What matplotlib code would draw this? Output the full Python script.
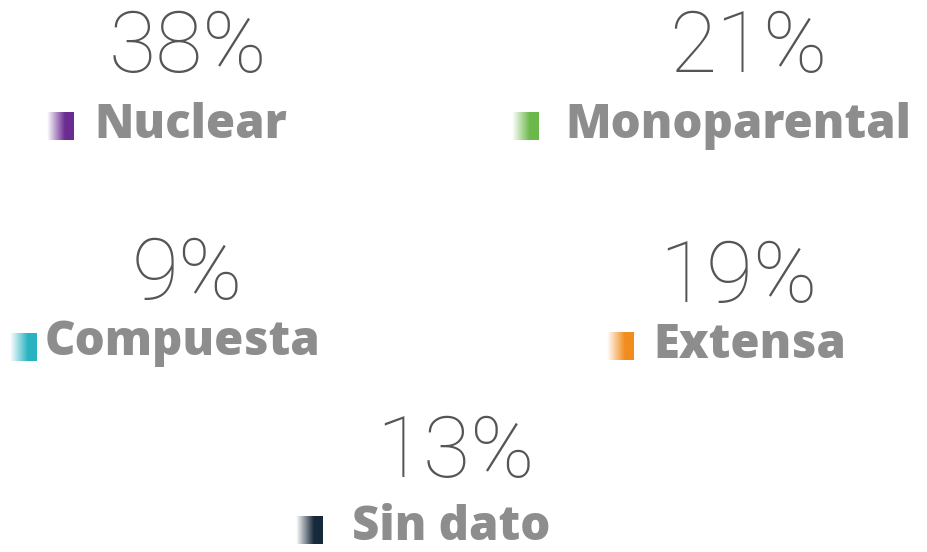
import numpy as np
import matplotlib
matplotlib.use("Agg")
import matplotlib.pyplot as plt
from matplotlib.colors import to_rgb

categories = ["Nuclear", "Monoparental", "Compuesta", "Extensa", "Sin dato"]
values = [38, 21, 9, 19, 13]
colors = ["#6b2c91", "#6cb84a", "#29b3c1", "#f28c1e", "#16293a"]

# layout (pixel coordinates, y downwards)
num_pos = [(188, 49), (748, 49), (187, 276), (738, 279), (455, 454)]
lab_pos = [(94, 126), (565, 126), (45, 343), (653, 346), (352, 528)]
mark_pos = [(47, 112), (512, 112), (10, 333), (607, 332), (296, 516)]
msize = 27

W, H = 927, 552
fig = plt.figure(figsize=(W / 100, H / 100), dpi=100)
ax = fig.add_axes([0, 0, 1, 1])
ax.set_xlim(0, W)
ax.set_ylim(H, 0)
ax.axis("off")

num_font = dict(family=["Roboto", "DejaVu Sans"], fontweight="light", fontsize=62, color="#555555")
lab_font = dict(family=["Open Sans", "DejaVu Sans"], fontweight="heavy", fontsize=34, color="#8d8d8d")

for cat, val, col, (nx, ny), (lx, ly), (mx, my) in zip(categories, values, colors, num_pos, lab_pos, mark_pos):
    ax.text(nx, ny, f"{val}%", ha="center", va="center", **num_font)
    ax.text(lx, ly, cat, ha="left", va="center", **lab_font)
    rgb = np.array(to_rgb(col))
    t = np.linspace(0, 1, 64)
    a = np.clip(t * 1.5, 0, 1)
    img = np.ones((1, 64, 4))
    img[0, :, :3] = rgb
    img[0, :, 3] = a
    ax.imshow(img, extent=(mx, mx + msize, my + msize + 1, my), aspect="auto",
              interpolation="bilinear", zorder=2)

ax.set_xlim(0, W)
ax.set_ylim(H, 0)
fig.savefig("out.png", dpi=100)
